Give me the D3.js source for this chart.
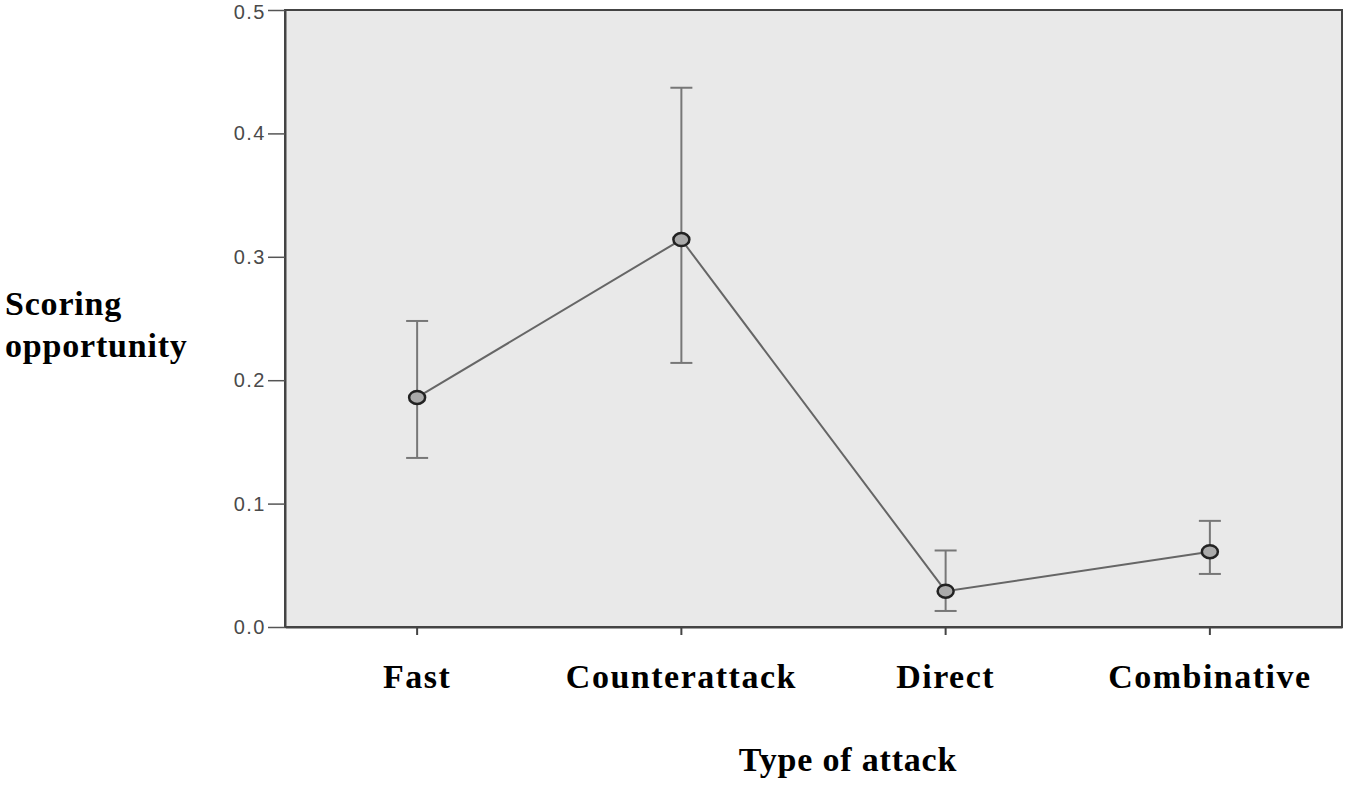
<!DOCTYPE html>
<html>
<head>
<meta charset="utf-8">
<script src="https://cdn.jsdelivr.net/npm/d3@7"></script>
<style>
  body { margin: 0; background: #fff; }
</style>
</head>
<body>
<div id="chart"></div>
<script>
// Data
const categories = ["Fast", "Counterattack", "Direct", "Combinative"];
const means = [0.186, 0.314, 0.029, 0.061];
const lower = [0.137, 0.214, 0.013, 0.043];
const upper = [0.248, 0.437, 0.062, 0.086];
const yTicks = [0.0, 0.1, 0.2, 0.3, 0.4, 0.5];

const width = 1350, height = 786;
const margin = { top: 10, right: 8, bottom: 159, left: 285 };
const chartWidth = width - margin.left - margin.right;
const chartHeight = height - margin.top - margin.bottom;

const svg = d3.select("#chart")
    .append("svg")
    .attr("width", width)
    .attr("height", height);

const g = svg.append("g")
    .attr("transform", "translate(" + margin.left + "," + margin.top + ")");

// scales
const xScale = d3.scaleBand()
    .domain(categories)
    .range([0, chartWidth]);

const yScale = d3.scaleLinear()
    .domain([0, 0.5])
    .range([chartHeight, 0]);

const cx = d => xScale(d) + xScale.bandwidth() / 2;

// plot background
g.append("rect")
    .attr("width", chartWidth)
    .attr("height", chartHeight)
    .attr("fill", "#e9e9e9")
    .attr("stroke", "#444")
    .attr("stroke-width", 2);

// y axis
const yAxis = g.append("g")
    .call(d3.axisLeft(yScale).tickValues(yTicks).tickFormat(d3.format(".1f"))
        .tickSize(17).tickSizeOuter(0).tickPadding(2));
yAxis.select(".domain").attr("stroke", "#444").attr("stroke-width", 2);
yAxis.selectAll(".tick line").attr("stroke", "#555").attr("stroke-width", 1.5);
yAxis.selectAll(".tick text")
    .attr("fill", "#4a4a4a")
    .attr("dy", d => d === 0.5 ? "0.42em" : "0.32em")
    .style("font-family", "Liberation Sans, Arial, sans-serif")
    .style("font-size", "20px")
    .style("letter-spacing", "1.5px");

// x axis
const xAxis = g.append("g")
    .attr("transform", "translate(0," + chartHeight + ")")
    .call(d3.axisBottom(xScale).tickSize(8).tickSizeOuter(0).tickPadding(29));
xAxis.select(".domain").attr("stroke", "#444").attr("stroke-width", 2);
xAxis.selectAll(".tick line").attr("stroke", "#444").attr("stroke-width", 2);
xAxis.selectAll(".tick text")
    .attr("fill", "#000")
    .attr("dy", "0.71em")
    .style("font-family", "Liberation Serif, Times New Roman, serif")
    .style("font-weight", "bold")
    .style("font-size", "34px")
    .style("letter-spacing", "1.5px");

// error bars
const bars = g.selectAll(".err")
    .data(categories)
    .enter().append("g")
    .attr("class", "err")
    .attr("stroke", "#777")
    .attr("stroke-width", 2);

bars.append("line")
    .attr("x1", d => cx(d)).attr("x2", d => cx(d))
    .attr("y1", (d, i) => yScale(upper[i]))
    .attr("y2", (d, i) => yScale(lower[i]));
bars.append("line")
    .attr("x1", d => cx(d) - 11).attr("x2", d => cx(d) + 11)
    .attr("y1", (d, i) => yScale(upper[i]))
    .attr("y2", (d, i) => yScale(upper[i]));
bars.append("line")
    .attr("x1", d => cx(d) - 11).attr("x2", d => cx(d) + 11)
    .attr("y1", (d, i) => yScale(lower[i]))
    .attr("y2", (d, i) => yScale(lower[i]));

// mean line
const line = d3.line()
    .x((d, i) => cx(categories[i]))
    .y(d => yScale(d));

g.append("path")
    .datum(means)
    .attr("fill", "none")
    .attr("stroke", "#666")
    .attr("stroke-width", 2)
    .attr("d", line);

// markers
g.selectAll(".pt")
    .data(means)
    .enter().append("ellipse")
    .attr("class", "pt")
    .attr("cx", (d, i) => cx(categories[i]))
    .attr("cy", d => yScale(d))
    .attr("rx", 8)
    .attr("ry", 6.5)
    .attr("fill", "#aaa")
    .attr("stroke", "#222")
    .attr("stroke-width", 2.5);

// axis titles
svg.append("text")
    .attr("x", 848)
    .attr("y", 771)
    .attr("text-anchor", "middle")
    .style("font-family", "Liberation Serif, Times New Roman, serif")
    .style("font-weight", "bold")
    .style("font-size", "34px")
    .style("letter-spacing", "0.8px")
    .text("Type of attack");

const yTitle = svg.append("text")
    .attr("x", 5)
    .style("font-family", "Liberation Serif, Times New Roman, serif")
    .style("font-weight", "bold")
    .style("font-size", "34px")
    .style("letter-spacing", "0.8px");
yTitle.append("tspan").attr("x", 5).attr("y", 315).text("Scoring");
yTitle.append("tspan").attr("x", 5).attr("y", 357).text("opportunity");
</script>
</body>
</html>
